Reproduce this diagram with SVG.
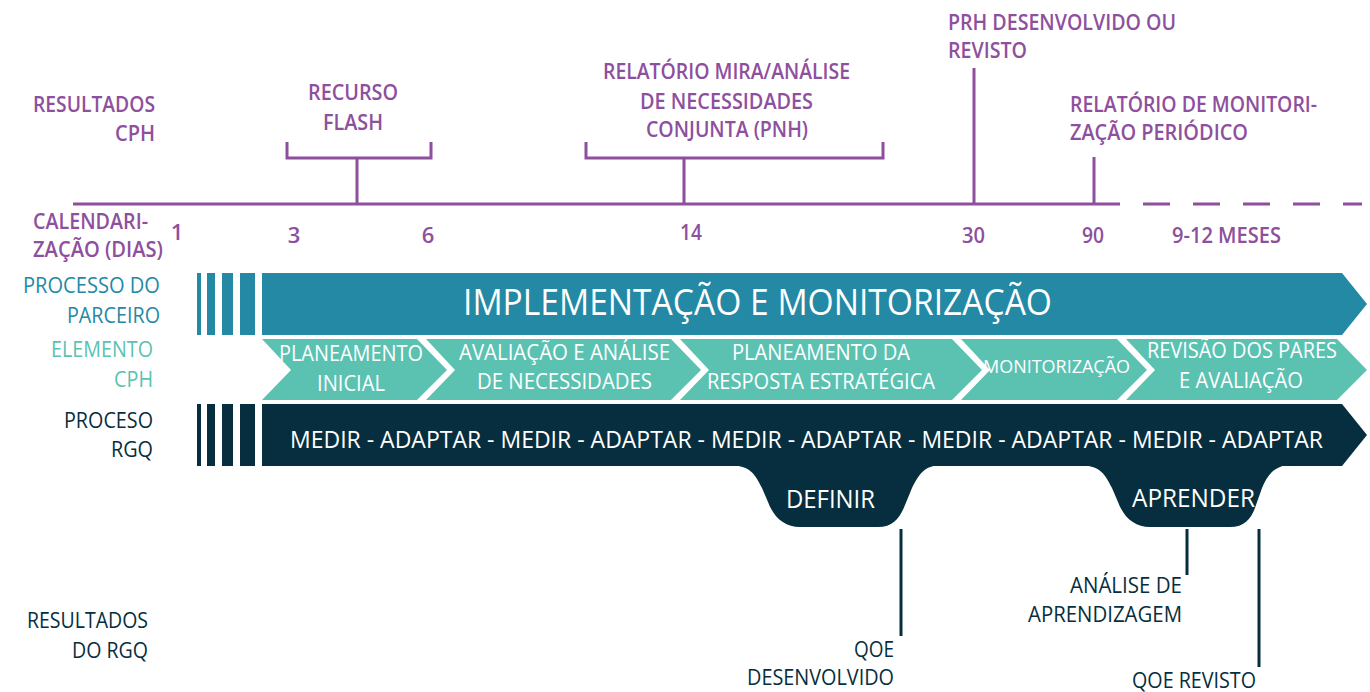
<svg xmlns="http://www.w3.org/2000/svg" width="1370" height="692" viewBox="0 0 1370 692">
<style>
.p{font-family:"Open Sans","Liberation Sans",sans-serif;font-weight:600;font-size:22px;fill:#8e4f9e}
.w{font-family:"Open Sans","Liberation Sans",sans-serif;font-size:21px;fill:#ffffff}
.lt{font-family:"Open Sans","Liberation Sans",sans-serif;font-size:21px}
.pl{stroke:#8e4f9e;stroke-width:3;fill:none}
.dl{stroke:#062e3e;stroke-width:3;fill:none}
.teal{fill:#2389a5}
.mint{fill:#5bc2b2}
.dark{fill:#062e3e}
</style>
<rect width="1370" height="692" fill="#ffffff"/>

<g id="connectors">
<line class="pl" x1="73" y1="204" x2="1120" y2="204"/>
<line class="pl" x1="1143" y1="204" x2="1362" y2="204" stroke-dasharray="27 23"/>
<path class="pl" d="M287,142 V158 H431 V142 M357,158 V204"/>
<path class="pl" d="M586,142 V158 H883 V142 M684,158 V204"/>
<line class="pl" x1="974" y1="68" x2="974" y2="204"/>
<line class="pl" x1="1094" y1="157" x2="1094" y2="204"/>
<line class="dl" x1="901" y1="529" x2="901" y2="636"/>
<line class="dl" x1="1187" y1="529" x2="1187" y2="575"/>
<line class="dl" x1="1259" y1="529" x2="1259" y2="667"/>
</g>

<g id="resultados-cph">
<text class="p" x="155" y="112" text-anchor="end" textLength="122" lengthAdjust="spacingAndGlyphs">RESULTADOS</text>
<text class="p" x="155" y="141" text-anchor="end" textLength="40" lengthAdjust="spacingAndGlyphs">CPH</text>
</g>
<g id="recurso-flash">
<text class="p" x="308" y="100" textLength="90" lengthAdjust="spacingAndGlyphs">RECURSO</text>
<text class="p" x="323" y="130" textLength="60" lengthAdjust="spacingAndGlyphs">FLASH</text>
</g>
<g id="relatorio-mira">
<text class="p" x="603" y="79" textLength="247" lengthAdjust="spacingAndGlyphs">RELATÓRIO MIRA/ANÁLISE</text>
<text class="p" x="640" y="109" textLength="173" lengthAdjust="spacingAndGlyphs">DE NECESSIDADES</text>
<text class="p" x="646" y="137" textLength="162" lengthAdjust="spacingAndGlyphs">CONJUNTA (PNH)</text>
</g>
<g id="prh">
<text class="p" x="948" y="30" textLength="228" lengthAdjust="spacingAndGlyphs">PRH DESENVOLVIDO OU</text>
<text class="p" x="948" y="58" textLength="79" lengthAdjust="spacingAndGlyphs">REVISTO</text>
</g>
<g id="relatorio-monitorizacao">
<text class="p" x="1070" y="112" textLength="247" lengthAdjust="spacingAndGlyphs">RELATÓRIO DE MONITORI-</text>
<text class="p" x="1070" y="140" textLength="178" lengthAdjust="spacingAndGlyphs">ZAÇÃO PERIÓDICO</text>
</g>
<g id="calendarizacao">
<text class="p" x="33" y="229" style="font-size:21px" textLength="115" lengthAdjust="spacingAndGlyphs">CALENDARI-</text>
<text class="p" x="33" y="257" style="font-size:21px" textLength="130" lengthAdjust="spacingAndGlyphs">ZAÇÃO (DIAS)</text>
<text class="p" x="177" y="240" text-anchor="middle">1</text>
<text class="p" x="294" y="243" text-anchor="middle">3</text>
<text class="p" x="428" y="243" text-anchor="middle">6</text>
<text class="p" x="680" y="240" textLength="22" lengthAdjust="spacingAndGlyphs">14</text>
<text class="p" x="962" y="243" textLength="23" lengthAdjust="spacingAndGlyphs">30</text>
<text class="p" x="1082" y="243" textLength="22" lengthAdjust="spacingAndGlyphs">90</text>
<text class="p" x="1172" y="243" textLength="109" lengthAdjust="spacingAndGlyphs">9-12 MESES</text>
</g>

<g id="label-parceiro">
<text class="lt" fill="#2389a5" x="160" y="293" text-anchor="end" textLength="137" lengthAdjust="spacingAndGlyphs">PROCESSO DO</text>
<text class="lt" fill="#2389a5" x="160" y="323" text-anchor="end" textLength="93" lengthAdjust="spacingAndGlyphs">PARCEIRO</text>
</g>
<g id="label-elemento">
<text class="lt" fill="#5bc2b2" x="153" y="357" text-anchor="end" textLength="102" lengthAdjust="spacingAndGlyphs">ELEMENTO</text>
<text class="lt" fill="#5bc2b2" x="153" y="387" text-anchor="end" textLength="39" lengthAdjust="spacingAndGlyphs">CPH</text>
</g>
<g id="label-rgq">
<text class="lt" fill="#062e3e" x="153" y="428" text-anchor="end" textLength="89" lengthAdjust="spacingAndGlyphs">PROCESO</text>
<text class="lt" fill="#062e3e" x="153" y="457" text-anchor="end" textLength="42" lengthAdjust="spacingAndGlyphs">RGQ</text>
</g>
<g id="label-resultados-rgq">
<text class="lt" fill="#062e3e" x="148" y="628" text-anchor="end" textLength="121" lengthAdjust="spacingAndGlyphs">RESULTADOS</text>
<text class="lt" fill="#062e3e" x="148" y="658" text-anchor="end" textLength="76" lengthAdjust="spacingAndGlyphs">DO RGQ</text>
</g>

<g id="processo-parceiro">
<rect class="teal" x="197" y="273" width="4" height="62"/>
<rect class="teal" x="207" y="273" width="8" height="62"/>
<rect class="teal" x="222" y="273" width="11" height="62"/>
<rect class="teal" x="240" y="273" width="15" height="62"/>
<polygon class="teal" points="262,273 1342,273 1367,304 1342,335 262,335"/>
<text class="w" x="463" y="315" style="font-size:36px" textLength="589" lengthAdjust="spacingAndGlyphs">IMPLEMENTAÇÃO E MONITORIZAÇÃO</text>
</g>

<g id="ch-planeamento-inicial">
<polygon class="mint" points="262,339 417,339 447,370 417,400 262,400 291,370"/>
<text class="w" x="279" y="361" textLength="144" lengthAdjust="spacingAndGlyphs">PLANEAMENTO</text>
<text class="w" x="317" y="391" textLength="68" lengthAdjust="spacingAndGlyphs">INICIAL</text>
</g>
<g id="ch-avaliacao">
<polygon class="mint" points="426,339 671,339 701,370 671,400 426,400 455,370"/>
<text class="w" x="459" y="360" textLength="211" lengthAdjust="spacingAndGlyphs">AVALIAÇÃO E ANÁLISE</text>
<text class="w" x="477" y="389" textLength="175" lengthAdjust="spacingAndGlyphs">DE NECESSIDADES</text>
</g>
<g id="ch-planeamento-resposta">
<polygon class="mint" points="680,339 952,339 982,370 952,400 680,400 709,370"/>
<text class="w" x="732" y="360" textLength="178" lengthAdjust="spacingAndGlyphs">PLANEAMENTO DA</text>
<text class="w" x="707" y="389" textLength="228" lengthAdjust="spacingAndGlyphs">RESPOSTA ESTRATÉGICA</text>
</g>
<g id="ch-monitorizacao">
<polygon class="mint" points="961,339 1117,339 1147,370 1117,400 961,400 990,370"/>
<text class="w" x="983" y="373" style="font-size:19px" textLength="147" lengthAdjust="spacingAndGlyphs">MONITORIZAÇÃO</text>
</g>
<g id="ch-revisao">
<polygon class="mint" points="1126,339 1337,339 1367,370 1337,400 1126,400 1155,370"/>
<text class="w" x="1147" y="358" textLength="190" lengthAdjust="spacingAndGlyphs">REVISÃO DOS PARES</text>
<text class="w" x="1179" y="388" textLength="124" lengthAdjust="spacingAndGlyphs">E AVALIAÇÃO</text>
</g>

<g id="processo-rgq">
<rect class="dark" x="197" y="404" width="4" height="62"/>
<rect class="dark" x="207" y="404" width="8" height="62"/>
<rect class="dark" x="222" y="404" width="11" height="62"/>
<rect class="dark" x="240" y="404" width="15" height="62"/>
<polygon class="dark" points="262,404 1342,404 1367,435 1342,466 262,466"/>
<text class="w" x="290" y="448" style="font-size:24px" textLength="1033" lengthAdjust="spacingAndGlyphs">MEDIR - ADAPTAR - MEDIR - ADAPTAR - MEDIR - ADAPTAR - MEDIR - ADAPTAR - MEDIR - ADAPTAR</text>
</g>

<g id="definir">
<path class="dark" d="M728,465 C750,465 755,474 762,488 L768,502 C774,518 785,527 800,527 L878,527 C893,527 900,518 905,505 L912,488 C919,474 925,465 942,465 Z"/>
<text class="w" x="786" y="508" style="font-size:26px" textLength="89" lengthAdjust="spacingAndGlyphs">DEFINIR</text>
</g>
<g id="aprender">
<path class="dark" d="M1078,465 C1100,465 1105,474 1112,488 L1118,502 C1124,518 1135,527 1150,527 L1230,527 C1245,527 1252,518 1256,505 L1262,488 C1268,474 1275,465 1292,465 Z"/>
<text class="w" x="1132" y="507" style="font-size:26px" textLength="123" lengthAdjust="spacingAndGlyphs">APRENDER</text>
</g>

<g id="qoe-desenvolvido">
<text class="lt" fill="#062e3e" x="894" y="657" text-anchor="end" textLength="40" lengthAdjust="spacingAndGlyphs">QOE</text>
<text class="lt" fill="#062e3e" x="894" y="685" text-anchor="end" textLength="147" lengthAdjust="spacingAndGlyphs">DESENVOLVIDO</text>
</g>
<g id="analise-aprendizagem">
<text class="lt" fill="#062e3e" x="1182" y="593" text-anchor="end" textLength="112" lengthAdjust="spacingAndGlyphs">ANÁLISE DE</text>
<text class="lt" fill="#062e3e" x="1182" y="622" text-anchor="end" textLength="154" lengthAdjust="spacingAndGlyphs">APRENDIZAGEM</text>
</g>
<g id="qoe-revisto">
<text class="lt" fill="#062e3e" x="1132" y="688" textLength="124" lengthAdjust="spacingAndGlyphs">QOE REVISTO</text>
</g>
</svg>
